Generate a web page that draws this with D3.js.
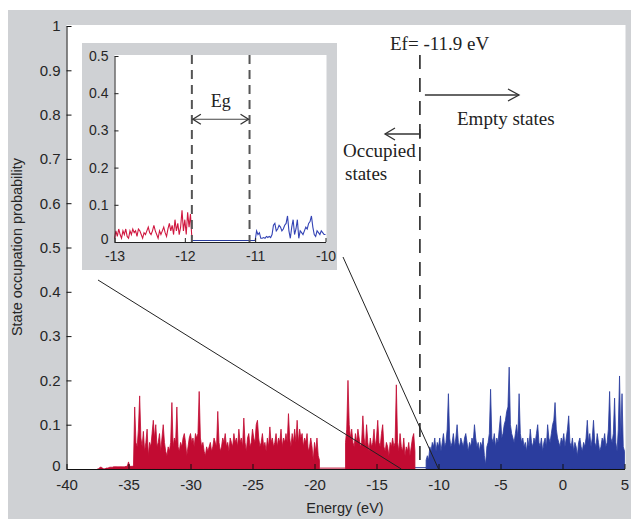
<!DOCTYPE html>
<html><head><meta charset="utf-8">
<script src="https://cdn.jsdelivr.net/npm/d3@7/dist/d3.min.js"></script>
<style>body{margin:0;background:#fff}svg{display:block}</style>
</head><body><svg id="c" width="631" height="519"></svg>
<script>
// ---------- DATA ----------
const xTicks = [-40,-35,-30,-25,-20,-15,-10,-5,0,5];
const yTicks = [0,0.1,0.2,0.3,0.4,0.5,0.6,0.7,0.8,0.9,1];
const insetXTicks = [-13,-12,-11,-10];
const insetYTicks = [0,0.1,0.2,0.3,0.4,0.5];

const step = 0.1;            // eV spacing of main-panel samples
const redAStart = -37.5;
const redA = [
 0,0,0.004,0.004,0.002,0,0,0.002,0.002,0.003,
 0.004,0.004,0.004,0.005,0.005,0.005,0.005,0.005,0.005,0.005,
 0.005,0.005,0.005,0.006,0.006,0.016,0.006,0.006,0.006,0.007,
 0.14,0.06,0.05,0.09,0.165,0.07,0.05,0.085,0.04,0.06,
 0.09,0.03,0.06,0.05,0.08,0.11,0.07,0.10,0.05,0.06,
 0.08,0.04,0.07,0.10,0.06,0.04,0.03,0.05,0.04,0.06,
 0.15,0.05,0.07,0.06,0.14,0.05,0.04,0.06,0.05,0.07,
 0.08,0.06,0.03,0.05,0.07,0.08,0.06,0.07,0.05,0.08,
 0.07,0.08,0.175,0.07,0.05,0.06,0.04,0.03,0.05,0.04,
 0.05,0.06,0.04,0.05,0.07,0.06,0.05,0.13,0.06,0.04,
 0.05,0.07,0.06,0.08,0.05,0.06,0.04,0.07,0.06,0.05,
 0.08,0.06,0.07,0.05,0.09,0.06,0.07,0.05,0.115,0.06,
 0.04,0.07,0.08,0.05,0.06,0.09,0.07,0.06,0.10,0.11,
 0.07,0.05,0.06,0.08,0.05,0.06,0.04,0.07,0.05,0.095,
 0.06,0.07,0.05,0.06,0.08,0.05,0.07,0.06,0.09,0.05,
 0.07,0.06,0.08,0.06,0.125,0.07,0.05,0.08,0.06,0.09,
 0.06,0.11,0.06,0.09,0.07,0.08,0.05,0.07,0.06,0.08,
 0.04,0.05,0.07,0.05,0.02,0.06,0.04,0.07,0.03,0.02
];
const redBStart = -17.5;
const redB = [
 0.06,0.09,0.20,0.10,0.07,0.09,0.06,0.05,0.08,0.06,
 0.09,0.07,0.05,0.06,0.12,0.07,0.05,0.10,0.06,0.04,
 0.07,0.05,0.06,0.09,0.05,0.07,0.11,0.06,0.05,0.08,
 0.10,0.05,0.04,0.06,0.05,0.03,0.06,0.05,0.07,0.05,
 0.06,0.19,0.06,0.04,0.08,0.05,0.04,0.07,0.03,0.05,
 0.04,0.06,0.03,0.05,0.07,0.08,0.04
];
const blueStart = -11.0;
const blueMain = [
 0.02,0.03,0.02,0.05,0.04,0.06,0.05,0.07,0.04,0.06,
 0.05,0.07,0.04,0.06,0.08,0.05,0.06,0.09,0.17,0.07,
 0.05,0.06,0.08,0.05,0.07,0.10,0.06,0.05,0.07,0.06,
 0.05,0.07,0.08,0.06,0.04,0.06,0.05,0.07,0.06,0.10,
 0.07,0.05,0.06,0.04,0.06,0.05,0.07,0.03,0.01,0.05,
 0.06,0.08,0.18,0.07,0.06,0.08,0.05,0.07,0.06,0.09,
 0.12,0.07,0.08,0.10,0.11,0.13,0.14,0.23,0.10,0.08,
 0.07,0.06,0.08,0.10,0.07,0.17,0.08,0.06,0.07,0.05,
 0.06,0.04,0.07,0.05,0.09,0.06,0.05,0.07,0.06,0.08,
 0.10,0.06,0.05,0.07,0.04,0.06,0.07,0.05,0.10,0.07,
 0.06,0.08,0.10,0.11,0.15,0.09,0.07,0.06,0.05,0.07,
 0.06,0.08,0.05,0.07,0.09,0.12,0.06,0.05,0.07,0.04,
 0.06,0.05,0.03,0.06,0.07,0.05,0.04,0.06,0.05,0.07,
 0.11,0.06,0.08,0.05,0.07,0.11,0.06,0.05,0.08,0.06,
 0.04,0.05,0.07,0.06,0.08,0.05,0.06,0.09,0.175,0.07,
 0.06,0.08,0.16,0.06,0.04,0.09,0.21,0.07,0.17,0.05,0.04
];
const redGap = [[-19.6,0.002],[-17.5,0.002]];
const blueGap = [[-11.9,0.003],[-11.0,0.003]];

const insetStep = 0.02;
const insetRedStart = -13.0;
const insetRed = [
 0.01,0.03,0.015,0.035,0.02,0.01,0.03,0.02,0.035,0.015,
 0.01,0.03,0.02,0.035,0.025,0.03,0.015,0.035,0.03,0.02,
 0.01,0.025,0.02,0.03,0.04,0.025,0.02,0.03,0.045,0.03,
 0.02,0.01,0.03,0.02,0.03,0.04,0.025,0.015,0.035,0.05,
 0.03,0.045,0.02,0.06,0.03,0.05,0.02,0.04,0.085,0.03,
 0.06,0.02,0.08,0.04,0.075,0.01
];
const insetBlueStart = -11.0;
const insetBlue = [
 0.004,0.03,0.02,0.025,0.01,0.01,0.012,0.01,0.015,0.012,
 0.015,0.012,0.02,0.045,0.05,0.03,0.035,0.045,0.04,0.03,
 0.035,0.045,0.05,0.07,0.03,0.01,0.04,0.06,0.02,0.035,
 0.06,0.01,0.03,0.025,0.02,0.03,0.04,0.035,0.05,0.055,
 0.07,0.04,0.02,0.015,0.03,0.025,0.02,0.03,0.025,0.02,0.02
];
const insetBlueGap = [[-11.9,0.004],[-11.0,0.004]];

const fermiText = "Ef= -11.9 eV";
const fermiLineE = -11.5;
const gapEdges = [-11.9, -11.08];
const egArrowP = 0.33;
const zoomRange = [-13, -10];

// ---------- DRAWING ----------
const W = 631, H = 519;
const svg = d3.select("#c");
const RED = "#c20b32", BLUE = "#2b3d9e", GRAY = "#cfd1d4";
const sans = "'Liberation Sans', Arial, sans-serif";
const serif = "'Liberation Serif', 'Times New Roman', serif";
const TXT = "#262626";

svg.append("rect").attr("width", W).attr("height", H).attr("fill", "#fff");
svg.append("rect").attr("x", 8).attr("y", 10).attr("width", W - 8).attr("height", H - 10).attr("fill", GRAY);

const M = {l: 66.5, r: 624.5, t: 26, b: 469};
svg.append("rect").attr("x", M.l).attr("y", 25).attr("width", M.r - M.l + 1).attr("height", M.b - 25).attr("fill", "#fff");

const x = d3.scaleLinear().domain([-40, 5]).range([M.l, M.r]);
const y = d3.scaleLinear().domain([0, 1]).range([M.b, M.t]);

const toPts = (arr, start, st) => arr.map((v, i) => [start + i * st, v]);

function drawFilled(pts, color) {
  const area = d3.area().x(d => x(d[0])).y0(y(0)).y1(d => y(d[1]));
  svg.append("path").attr("d", area(pts)).attr("fill", color).attr("stroke", color).attr("stroke-width", 0.8);
}
function drawLine(g, pts, sx, sy, color, w) {
  const line = d3.line().x(d => sx(d[0])).y(d => sy(d[1]));
  g.append("path").attr("d", line(pts)).attr("fill", "none").attr("stroke", color).attr("stroke-width", w);
}

drawLine(svg, redGap, x, y, RED, 1);
drawLine(svg, blueGap, x, y, BLUE, 1);
drawFilled(toPts(redA, redAStart, step), RED);
drawFilled(toPts(redB, redBStart, step), RED);
drawFilled(toPts(blueMain, blueStart, step), BLUE);

// axes
const fmt = d => String(d);
const gy = svg.append("g").attr("transform", `translate(${M.l},0)`)
  .call(d3.axisLeft(y).tickValues(yTicks).tickFormat(fmt).tickSizeInner(-5).tickSizeOuter(0).tickPadding(6));
const gx = svg.append("g").attr("transform", `translate(0,${M.b})`)
  .call(d3.axisBottom(x).tickValues(xTicks).tickFormat(fmt).tickSizeInner(-5).tickSizeOuter(0).tickPadding(10));
[gy, gx].forEach(g => {
  g.selectAll("text").attr("font-family", sans).attr("font-size", 15).attr("fill", TXT);
  g.selectAll("line,path").attr("stroke", "#111");
});
gy.selectAll(".tick").filter(d => d === 0).select("text").attr("dy", "0.1em");

svg.append("text").attr("transform", `translate(22,247) rotate(-90)`)
  .attr("text-anchor", "middle").attr("font-family", sans).attr("font-size", 14.5).attr("fill", TXT)
  .text("State occupation probability");
svg.append("text").attr("x", 345).attr("y", 513).attr("text-anchor", "middle")
  .attr("font-family", sans).attr("font-size", 14.5).attr("fill", TXT).text("Energy (eV)");

// Fermi dashed line + annotations
svg.append("line").attr("x1", x(fermiLineE)).attr("x2", x(fermiLineE)).attr("y1", 55).attr("y2", M.b)
  .attr("stroke", "#333").attr("stroke-width", 1.7).attr("stroke-dasharray", "14,9");
svg.append("text").attr("x", 390).attr("y", 50).attr("font-family", serif).attr("font-size", 19).attr("fill", "#222").text(fermiText);

function arrowHead(g, xTip, yTip, dir, len, half) {
  g.append("path").attr("d", `M${xTip - dir*len},${yTip - half}L${xTip},${yTip}L${xTip - dir*len},${yTip + half}`)
    .attr("fill", "none").attr("stroke", "#333").attr("stroke-width", 1.3);
}
const xf = x(fermiLineE);
svg.append("line").attr("x1", xf + 5).attr("x2", 519).attr("y1", 95).attr("y2", 95).attr("stroke", "#333").attr("stroke-width", 1.3);
arrowHead(svg, 519, 95, 1, 11, 6);
svg.append("text").attr("x", 457).attr("y", 125).attr("font-family", serif).attr("font-size", 19).attr("fill", "#222").text("Empty states");

svg.append("line").attr("x1", xf).attr("x2", 385).attr("y1", 134).attr("y2", 134).attr("stroke", "#333").attr("stroke-width", 1.3);
svg.append("line").attr("x1", xf).attr("x2", xf).attr("y1", 129).attr("y2", 139).attr("stroke", "#333").attr("stroke-width", 1.3);
arrowHead(svg, 385, 134, -1, 10, 6);
svg.append("text").attr("x", 343).attr("y", 157).attr("font-family", serif).attr("font-size", 19).attr("fill", "#222").text("Occupied");
svg.append("text").attr("x", 345).attr("y", 180).attr("font-family", serif).attr("font-size", 19).attr("fill", "#222").text("states");

// ---------- INSET ----------
const IB = {x0: 82, y0: 43, x1: 337, y1: 270};
const IM = {l: 114.5, r: 325.5, t: 56, b: 242};

// zoom connector lines
svg.append("line").attr("x1", 98).attr("y1", 280).attr("x2", x(zoomRange[0])).attr("y2", M.b).attr("stroke", "#222").attr("stroke-width", 1);
svg.append("line").attr("x1", 343).attr("y1", 257).attr("x2", x(zoomRange[1])).attr("y2", M.b).attr("stroke", "#222").attr("stroke-width", 1);

const ig = svg.append("g");
ig.append("rect").attr("x", IB.x0).attr("y", IB.y0).attr("width", IB.x1 - IB.x0).attr("height", IB.y1 - IB.y0).attr("fill", GRAY);
ig.append("rect").attr("x", IM.l).attr("y", IM.t - 1).attr("width", IM.r - IM.l + 1).attr("height", IM.b - IM.t + 1).attr("fill", "#fff");
const ix = d3.scaleLinear().domain(zoomRange).range([IM.l, IM.r]);
const iy = d3.scaleLinear().domain([0, 0.5]).range([IM.b, IM.t]);

drawLine(ig, insetBlueGap, ix, iy, BLUE, 1.2);
drawLine(ig, toPts(insetRed, insetRedStart, insetStep), ix, iy, "#d01840", 1.1);
drawLine(ig, toPts(insetBlue, insetBlueStart, insetStep), ix, iy, "#3343b5", 1.1);

const igy = ig.append("g").attr("transform", `translate(${IM.l},0)`)
  .call(d3.axisLeft(iy).tickValues(insetYTicks).tickFormat(fmt).tickSizeInner(-4).tickSizeOuter(0).tickPadding(6));
const igx = ig.append("g").attr("transform", `translate(0,${IM.b})`)
  .call(d3.axisBottom(ix).tickValues(insetXTicks).tickFormat(fmt).tickSizeInner(-4).tickSizeOuter(0).tickPadding(9));
[igy, igx].forEach(g => {
  g.selectAll("text").attr("font-family", sans).attr("font-size", 14).attr("fill", TXT);
  g.selectAll("line,path").attr("stroke", "#222");
});
igy.selectAll(".tick").filter(d => d === 0).select("text").attr("dy", "0.1em");

gapEdges.forEach(e => {
  ig.append("line").attr("x1", ix(e)).attr("x2", ix(e)).attr("y1", IM.t - 1).attr("y2", IM.b)
    .attr("stroke", "#555").attr("stroke-width", 2).attr("stroke-dasharray", "9,6");
});
const ya = iy(egArrowP);
ig.append("line").attr("x1", ix(gapEdges[0]) + 1).attr("x2", ix(gapEdges[1]) - 1).attr("y1", ya).attr("y2", ya).attr("stroke", "#444").attr("stroke-width", 1.2);
arrowHead(ig, ix(gapEdges[0]) + 1, ya, -1, 8, 5);
arrowHead(ig, ix(gapEdges[1]) - 1, ya, 1, 8, 5);
ig.append("text").attr("x", (ix(gapEdges[0]) + ix(gapEdges[1])) / 2).attr("y", 107).attr("text-anchor", "middle")
  .attr("font-family", serif).attr("font-size", 18).attr("fill", "#222").text("Eg");
</script></body></html>
